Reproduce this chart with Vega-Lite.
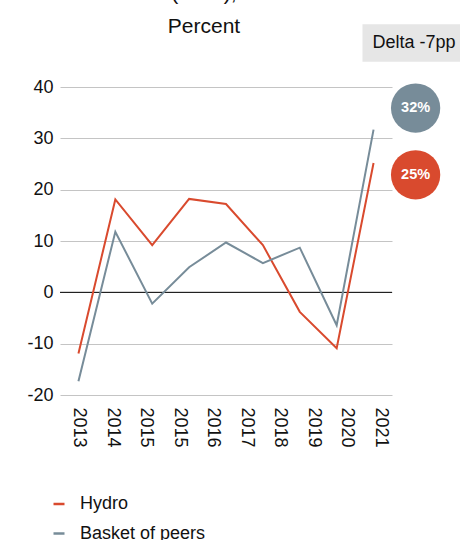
{
  "$schema": "https://vega.github.io/schema/vega-lite/v6.json",
  "width": 332,
  "height": 308,
  "autosize": {"type": "none"},
  "padding": {"left": 60, "top": 87, "right": 68, "bottom": 145},
  "background": "white",
  "config": {
    "view": {"stroke": null},
    "font": "Liberation Sans",
    "axis": {"labelFont": "Liberation Sans", "labelColor": "#111", "labelFontSize": 18},
    "legend": {"labelFont": "Liberation Sans"}
  },
  "title": {
    "text": "(NOK),",
    "subtitle": "Percent",
    "fontSize": 21,
    "fontWeight": "normal",
    "subtitleFontSize": 21,
    "subtitleColor": "#111",
    "color": "#111",
    "font": "Liberation Sans",
    "subtitleFont": "Liberation Sans",
    "anchor": "middle",
    "frame": "group",
    "dx": -22,
    "offset": -13,
    "subtitlePadding": 12
  },
  "datasets": {
    "series": [
      {"year": 2013, "series": "Hydro", "value": -11.9},
      {"year": 2014, "series": "Hydro", "value": 18.1},
      {"year": 2015, "series": "Hydro", "value": 9.2},
      {"year": 2016, "series": "Hydro", "value": 18.2},
      {"year": 2017, "series": "Hydro", "value": 17.2},
      {"year": 2018, "series": "Hydro", "value": 9.2},
      {"year": 2019, "series": "Hydro", "value": -3.8},
      {"year": 2020, "series": "Hydro", "value": -10.9},
      {"year": 2021, "series": "Hydro", "value": 25.2},
      {"year": 2013, "series": "Basket of peers", "value": -17.3},
      {"year": 2014, "series": "Basket of peers", "value": 11.8},
      {"year": 2015, "series": "Basket of peers", "value": -2.2},
      {"year": 2016, "series": "Basket of peers", "value": 4.9},
      {"year": 2017, "series": "Basket of peers", "value": 9.7},
      {"year": 2018, "series": "Basket of peers", "value": 5.7},
      {"year": 2019, "series": "Basket of peers", "value": 8.7},
      {"year": 2020, "series": "Basket of peers", "value": -6.4},
      {"year": 2021, "series": "Basket of peers", "value": 31.7}
    ],
    "badges": [
      {"series": "Basket of peers", "label": "32%", "x": 2022.14, "y": 35.9},
      {"series": "Hydro", "label": "25%", "x": 2022.14, "y": 22.9}
    ],
    "delta": [
      {"label": "Delta -7pp", "x1": 2020.7, "x2": 2023.6, "y1": 52.2, "y2": 44.9, "tx": 2020.97, "ty": 48.5}
    ]
  },
  "layer": [
    {
      "data": {"values": [{"zero": 0}]},
      "mark": {"type": "rule", "color": "black", "strokeWidth": 1},
      "encoding": {"y": {"field": "zero", "type": "quantitative"}}
    },
    {
      "data": {"name": "series"},
      "mark": {"type": "line", "strokeWidth": 2},
      "encoding": {
        "x": {
          "field": "year",
          "type": "quantitative",
          "scale": {"domain": [2012.5, 2021.5], "nice": false, "zero": false},
          "axis": {
            "title": null,
            "values": [2013, 2013.91, 2014.82, 2015.73, 2016.64, 2017.55, 2018.46, 2019.37, 2020.28, 2021.19],
            "tickCount": 20,
            "labelExpr": "toString(floor(datum.value + 0.22))",
            "labelAngle": 90,
            "labelFlush": false,
            "labelOverlap": false,
            "grid": false,
            "ticks": false,
            "domain": false,
            "labelPadding": 12
          }
        },
        "y": {
          "field": "value",
          "type": "quantitative",
          "scale": {"domain": [-20, 40], "nice": false},
          "axis": {
            "title": null,
            "values": [-20, -10, 0, 10, 20, 30, 40],
            "tickCount": 20,
            "labelExpr": "replace(toString(datum.value), '−', '-')",
            "ticks": false,
            "domain": false,
            "grid": true,
            "gridColor": "#c4c4c4",
            "gridWidth": 1,
            "labelPadding": 7
          }
        },
        "color": {
          "field": "series",
          "type": "nominal",
          "scale": {"domain": ["Hydro", "Basket of peers"], "range": ["#d94a2e", "#778c99"]},
          "legend": {
            "title": null,
            "orient": "none",
            "legendX": -10,
            "legendY": 408,
            "direction": "vertical",
            "symbolType": "stroke",
            "symbolSize": 121,
            "symbolStrokeWidth": 2.5,
            "labelFontSize": 18,
            "labelColor": "#111",
            "labelOffset": 12,
            "rowPadding": 11.5
          }
        }
      }
    },
    {
      "data": {"name": "badges"},
      "mark": {"type": "point", "filled": true, "opacity": 1, "size": 2430, "shape": "circle", "clip": false},
      "encoding": {
        "x": {"field": "x", "type": "quantitative"},
        "y": {"field": "y", "type": "quantitative"},
        "color": {"field": "series", "type": "nominal", "legend": null}
      }
    },
    {
      "data": {"name": "badges"},
      "mark": {"type": "text", "color": "white", "fontWeight": "bold", "fontSize": 14.5, "font": "Liberation Sans", "clip": false},
      "encoding": {
        "x": {"field": "x", "type": "quantitative"},
        "y": {"field": "y", "type": "quantitative"},
        "text": {"field": "label"}
      }
    },
    {
      "data": {"name": "delta"},
      "mark": {"type": "rect", "color": "#e6e6e6", "clip": false},
      "encoding": {
        "x": {"field": "x1", "type": "quantitative"},
        "x2": {"field": "x2"},
        "y": {"field": "y1", "type": "quantitative"},
        "y2": {"field": "y2"}
      }
    },
    {
      "data": {"name": "delta"},
      "mark": {"type": "text", "align": "left", "baseline": "middle", "fontSize": 18, "color": "#111", "font": "Liberation Sans", "clip": false},
      "encoding": {
        "x": {"field": "tx", "type": "quantitative"},
        "y": {"field": "ty", "type": "quantitative"},
        "text": {"field": "label"}
      }
    }
  ]
}
